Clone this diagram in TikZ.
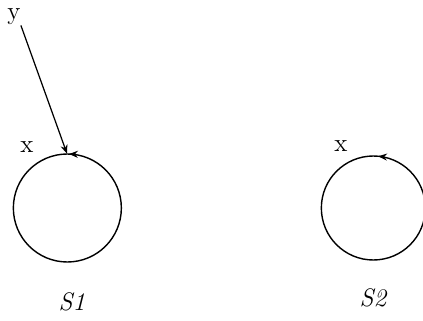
\documentclass[tikz,border=0pt]{standalone}
\usetikzlibrary{arrows.meta,decorations.markings}
\begin{document}
\begin{tikzpicture}[x=0.02cm,y=-0.02cm,
  lbl/.style={inner sep=0pt,font=\Large},
  ring/.style={line width=0.8pt,postaction={decorate},decoration={markings,mark=at position #1 with {\arrow{Stealth[length=5pt,width=4pt]}}}},
  link/.style={line width=0.7pt,-{Stealth[length=5pt,width=4pt]}}]
\useasboundingbox (0,0) rectangle (423,321);
\node[circle,minimum size=108*0.02cm,inner sep=0pt] (c1) at (67,208) {};
\node[circle,minimum size=104*0.02cm,inner sep=0pt] (c2) at (373,208) {};
\draw[ring=0.245] (c1.east) arc[start angle=0,end angle=-360,radius=54];
\draw[ring=0.235] (c2.east) arc[start angle=0,end angle=-360,radius=52];
\node[lbl] (y) at (14,17) {y};
\node[lbl] (x1) at (27,147) {x};
\node[lbl] (x2) at (341,146) {x};
\node[lbl] (s1) at (72,302) {\itshape S1};
\node[lbl] (s2) at (373,298) {\itshape S2};
\draw[link] (y.south east) -- (c1.90);
\end{tikzpicture}
\end{document}
